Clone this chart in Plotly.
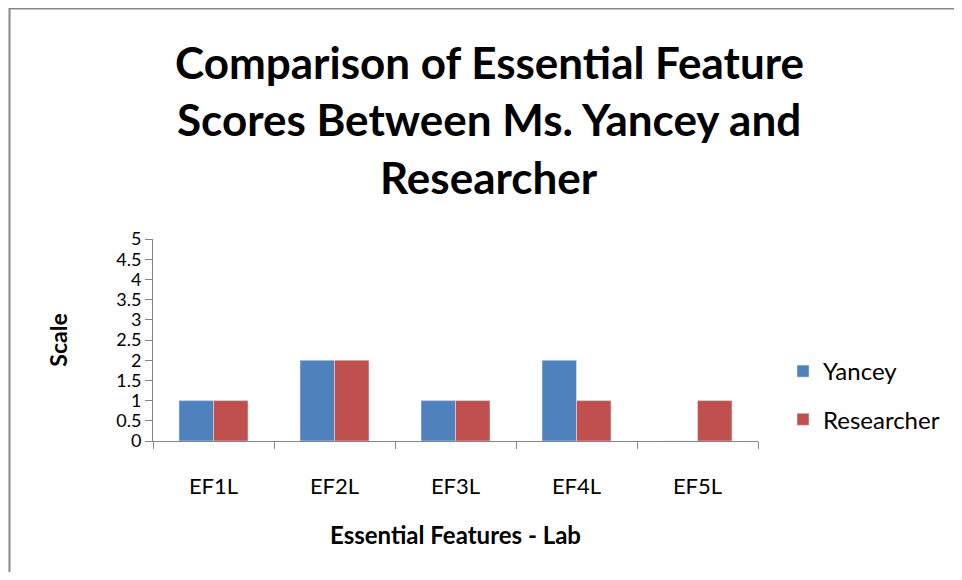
import plotly.graph_objects as go

categories = ["EF1L", "EF2L", "EF3L", "EF4L", "EF5L"]
yancey = [1, 2, 1, 2, 0]
researcher = [1, 2, 1, 1, 1]
y_ticks = [0, 0.5, 1, 1.5, 2, 2.5, 3, 3.5, 4, 4.5, 5]
y_tick_labels = ["0", "0.5", "1", "1.5", "2", "2.5", "3", "3.5", "4", "4.5", "5"]
title_lines = ["Comparison of Essential Feature", "Scores Between Ms. Yancey and", "Researcher"]

FONT = "Lato"
OFF = 8  # page body margin
W, H = 962 - 2 * OFF, 580 - 2 * OFF
# plot area in page pixels
X0, X1, Y0, Y1 = 153, 758, 239, 441
L, R, T, B = X0 - OFF, W - (X1 - OFF), Y0 - OFF, H - (Y1 - OFF)
pw, ph = W - L - R, H - T - B

def px(x):
    return (x - X0) / pw

def py(y):
    return (Y1 - y) / ph

fig = go.Figure()
fig.add_trace(go.Bar(x=categories, y=yancey, name="Yancey", marker_color="#4F81BD",
                     legendgroup="a"))
fig.add_trace(go.Bar(x=categories, y=researcher, name="Researcher", marker_color="#C0504D",
                     legendgroup="b"))

fig.update_layout(
    width=W, height=H,
    margin=dict(l=L, r=R, t=T, b=B, autoexpand=False),
    paper_bgcolor="white", plot_bgcolor="white",
    font=dict(family=FONT, color="#000000"),
    barmode="group", bargap=0.43, bargroupgap=0,
    xaxis=dict(showline=True, linecolor="#868686", linewidth=1,
               ticks="outside", ticklen=7, tickcolor="#868686", tickson="boundaries",
               tickfont=dict(size=22, color="#000000"), ticklabelstandoff=26,
               showgrid=False, zeroline=False,
               title=dict(text="<b>Essential Features - Lab</b>", font=dict(size=24), standoff=28)),
    yaxis=dict(range=[0, 5], tickvals=y_ticks, ticktext=y_tick_labels,
               showline=True, linecolor="#868686", linewidth=1,
               ticks="outside", ticklen=7, tickcolor="#868686",
               tickfont=dict(size=18, color="#000000"), showgrid=False, zeroline=False,
               title=dict(text="<b>Scale</b>", font=dict(size=23), standoff=42)),
    legend=dict(x=px(783), y=py(349), xanchor="left", yanchor="top",
                font=dict(size=24, color="#000000"), tracegroupgap=14,
                bgcolor="rgba(0,0,0,0)"),
    showlegend=True,
)

# title lines
for text, yc in zip(title_lines, [62, 119, 177]):
    fig.add_annotation(text="<b>" + text + "</b>", xref="paper", yref="paper",
                       x=px(489), y=py(yc), xanchor="center", yanchor="middle",
                       showarrow=False, font=dict(size=44, family=FONT, color="#000000"))

# chart border (left and top edges visible)
fig.add_shape(type="line", xref="paper", yref="paper",
              x0=px(9.5), x1=px(9.5), y0=py(8), y1=py(600),
              line=dict(color="#888888", width=2))
fig.add_shape(type="line", xref="paper", yref="paper",
              x0=px(9.5), x1=px(980), y0=py(8.5), y1=py(8.5),
              line=dict(color="#888888", width=2))

fig.write_html("out.html")
